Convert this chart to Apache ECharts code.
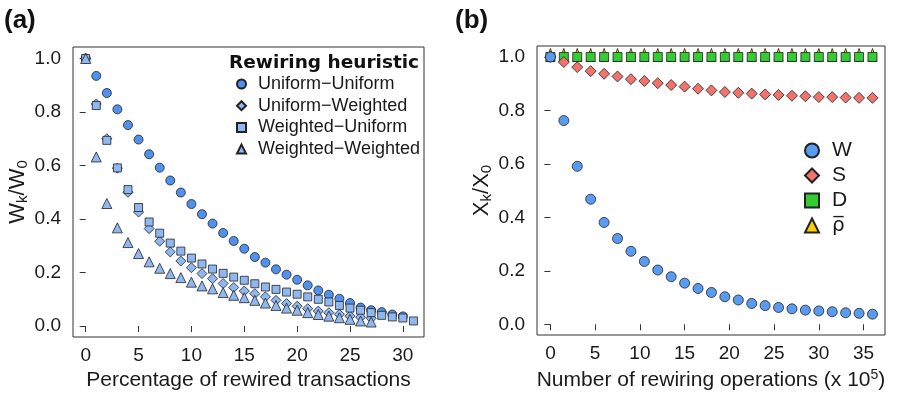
<!DOCTYPE html>
<html>
<head>
<meta charset="utf-8">
<script src="https://cdn.jsdelivr.net/npm/echarts@6/dist/echarts.min.js"></script>
<style>
  html, body { margin: 0; padding: 0; background: #fff; }
  #chart { width: 900px; height: 402px; }
</style>
</head>
<body>
<div id="chart"></div>
<script>
'use strict';

// panel (a): percentage of rewired transactions
let pctX = [0,1,2,3,4,5,6,7,8,9,10,11,12,13,14,15,16,17,18,19,20,21,22,23,24,25,26,27,28,29,30,31];
let uniUni = [1.0,0.935,0.871,0.810,0.751,0.697,0.642,0.592,0.544,0.499,0.456,0.418,0.383,0.348,0.318,0.289,0.258,0.237,0.212,0.192,0.173,0.152,0.133,0.117,0.102,0.086,0.069,0.059,0.052,0.043,0.036];
let uniWei = [1.0,0.83,0.70,0.59,0.50,0.426,0.364,0.317,0.277,0.243,0.218,0.196,0.177,0.159,0.144,0.131,0.121,0.109,0.096,0.084,0.074,0.065,0.056,0.050,0.044,0.037,0.033,0.029];
let weiUni = [1.0,0.824,0.694,0.591,0.510,0.443,0.389,0.347,0.310,0.280,0.254,0.232,0.213,0.197,0.183,0.171,0.158,0.146,0.137,0.127,0.119,0.109,0.100,0.090,0.077,0.067,0.059,0.050,0.040,0.034,0.030,0.019];
let weiWei = [1.0,0.632,0.458,0.367,0.312,0.271,0.240,0.216,0.196,0.181,0.164,0.150,0.139,0.125,0.115,0.106,0.096,0.086,0.077,0.067,0.059,0.050,0.043,0.037,0.031,0.025,0.019,0.015];
let pctTicks = [0,5,10,15,20,25,30];

// panel (b): number of rewiring operations (x 10^5)
let opsX = [0,1.5,3,4.5,6,7.5,9,10.5,12,13.5,15,16.5,18,19.5,21,22.5,24,25.5,27,28.5,30,31.5,33,34.5,36];
let valW = [1.0,0.762,0.591,0.468,0.381,0.321,0.273,0.235,0.203,0.178,0.154,0.134,0.119,0.103,0.091,0.078,0.070,0.063,0.058,0.053,0.050,0.047,0.043,0.041,0.038];
let valS = [1.0,0.981,0.962,0.947,0.937,0.927,0.917,0.910,0.902,0.895,0.889,0.881,0.875,0.869,0.866,0.863,0.860,0.858,0.855,0.853,0.850,0.850,0.848,0.847,0.847];
let valD = [1,1,1,1,1,1,1,1,1,1,1,1,1,1,1,1,1,1,1,1,1,1,1,1,1];
let valRho = [1,1,1,1,1,1,1,1,1,1,1,1,1,1,1,1,1,1,1,1,1,1,1,1,1];
let opsTicks = [0,5,10,15,20,25,30,35];
let yTicks = [0,0.2,0.4,0.6,0.8,1.0];

let FONT = 'Liberation Sans';
let INK = '#1a1a1a';
let RHO = '\u03c1\u0305';

let pairs = function(xs, ys){
    return ys.map(function(y, i){ return [xs[i], y]; });
};

let mkX = function(idx, min, max, ticks, name){
    return {
        type: 'value', gridIndex: idx, min: min, max: max,
        name: name, nameLocation: 'middle', nameGap: 30,
        nameTextStyle: {
            fontFamily: FONT, fontSize: 21, color: INK,
            rich: {
                t: {fontFamily: FONT, fontSize: 21, color: INK, lineHeight: 24},
                sup: {fontFamily: FONT, fontSize: 14, color: INK, lineHeight: 24, verticalAlign: 'top', padding: [0,0,10,0]}
            }
        },
        axisLine: {show: false},
        axisTick: {show: true, inside: false, length: 6, customValues: ticks, lineStyle: {color: '#333'}},
        axisLabel: {customValues: ticks, margin: 9, fontFamily: FONT, fontSize: 19, color: INK},
        splitLine: {show: false}
    };
};

let mkY = function(idx, min, max, name, gap){
    return {
        type: 'value', gridIndex: idx, min: min, max: max,
        name: name, nameLocation: 'middle', nameGap: gap, nameRotate: 90,
        nameTextStyle: {
            rich: {
                t: {fontFamily: FONT, fontSize: 22, color: INK, lineHeight: 26},
                s: {fontFamily: FONT, fontSize: 15, color: INK, lineHeight: 13, verticalAlign: 'bottom'}
            }
        },
        axisLine: {show: false},
        axisTick: {show: true, inside: false, length: 6, customValues: yTicks, lineStyle: {color: '#333'}},
        axisLabel: {customValues: yTicks, margin: 12, fontFamily: FONT, fontSize: 19, color: INK,
            formatter: function(v){ return v.toFixed(1); }},
        splitLine: {show: false}
    };
};

let dot = function(name, shape, size, color, xi, xs, ys){
    return {
        name: name, type: 'scatter', xAxisIndex: xi, yAxisIndex: xi,
        symbol: shape, symbolSize: size,
        itemStyle: {color: color, borderColor: '#222', borderWidth: 0.8, opacity: 1},
        emphasis: {disabled: true},
        data: pairs(xs, ys)
    };
};

let blueDark = '#5090ee';
let blueLight = '#8fb8f2';

// rho triangles peek out above the D squares
let rhoSeries = dot(RHO, 'triangle', [9, 13], '#ffcc00', 1, opsX, valRho);
rhoSeries.symbolOffset = [0, -2];

let option = {
    animation: false,
    backgroundColor: '#fff',
    title: [
        {text: '(a)', left: 4, top: 8, padding: 0, textStyle: {fontFamily: FONT, fontSize: 26, fontWeight: 'bold', color: '#111'}},
        {text: '(b)', left: 455, top: 8, padding: 0, textStyle: {fontFamily: FONT, fontSize: 26, fontWeight: 'bold', color: '#111'}},
        {text: 'Rewiring heuristic', left: 229, top: 54, padding: 0, textStyle: {fontFamily: 'DejaVu Sans', fontSize: 18.5, fontWeight: 'bold', color: '#111'}}
    ],
    legend: [
        {
            data: ['Uniform\u2212Uniform', 'Uniform\u2212Weighted', 'Weighted\u2212Uniform', 'Weighted\u2212Weighted'],
            orient: 'vertical', left: 236, top: 74, padding: 0,
            itemWidth: 9, itemHeight: 9, itemGap: 1.7,
            selectedMode: false,
            textStyle: {fontFamily: FONT, fontSize: 18, color: INK, lineHeight: 20, padding: [0,0,0,7]}
        },
        {
            data: ['W', 'S', 'D', {name: RHO, icon: 'triangle'}],
            orient: 'vertical', left: 804, top: 139, padding: 0,
            itemWidth: 14, itemHeight: 14, itemGap: 2,
            selectedMode: false,
            formatter: function(n){ return n === RHO ? '{r|' + n + '}' : n; },
            textStyle: {fontFamily: FONT, fontSize: 21, color: INK, lineHeight: 23, padding: [0,0,0,8],
                rich: {r: {fontFamily: 'DejaVu Sans', fontSize: 20, color: INK, lineHeight: 23}}}
        }
    ],
    grid: [
        {left: 73, top: 47, width: 351, height: 290, show: true, borderColor: '#333', borderWidth: 1, backgroundColor: 'transparent'},
        {left: 537, top: 46, width: 348, height: 289, show: true, borderColor: '#333', borderWidth: 1, backgroundColor: 'transparent'}
    ],
    xAxis: [
        mkX(0, -1.2, 32, pctTicks, 'Percentage of rewired transactions'),
        mkX(1, -1.5, 37.4, opsTicks, '{t|Number of rewiring operations (x 10}{sup|5}{t|)}')
    ],
    yAxis: [
        mkY(0, -0.041, 1.043, '{t|W}{s|k}{t|/W}{s|0}', 35),
        mkY(1, -0.04, 1.041, '{t|X}{s|k}{t|/X}{s|0}', 39)
    ],
    series: [
        dot('Uniform\u2212Uniform', 'circle', 9, blueDark, 0, pctX, uniUni),
        dot('Uniform\u2212Weighted', 'diamond', 10, blueLight, 0, pctX, uniWei),
        dot('Weighted\u2212Uniform', 'rect', 8, blueLight, 0, pctX, weiUni),
        dot('Weighted\u2212Weighted', 'triangle', 10, blueLight, 0, pctX, weiWei),
        // drawn bottom to top so that W sits on top at x = 0
        rhoSeries,
        dot('D', 'rect', 9, '#33cc33', 1, opsX, valD),
        dot('S', 'diamond', 11, '#f2736b', 1, opsX, valS),
        dot('W', 'circle', 10, '#5a9bf2', 1, opsX, valW)
    ]
};

let myChart = echarts.init(document.getElementById('chart'), null, {renderer: 'canvas'});
myChart.setOption(option);
</script>
</body>
</html>
